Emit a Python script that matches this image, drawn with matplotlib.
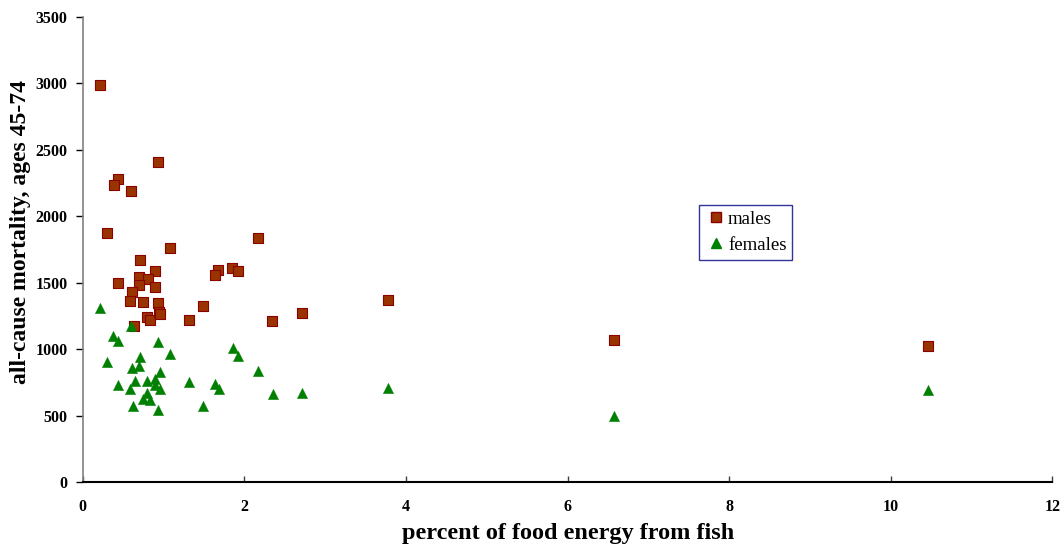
import matplotlib
matplotlib.use("Agg")
import matplotlib.pyplot as plt
from matplotlib.lines import Line2D

# Percent of food energy from fish vs all-cause mortality (ages 45-74)
males_x = [0.21, 0.93, 0.44, 0.38, 0.59, 0.30, 2.17, 1.08, 0.71, 0.89,
           0.70, 0.81, 0.44, 0.69, 0.89, 1.67, 1.63, 1.85, 1.92, 0.61,
           0.58, 0.75, 0.93, 1.49, 0.80, 0.83, 0.94, 0.96, 1.32, 0.63,
           2.34, 2.71, 3.78, 6.57, 10.46]
males_y = [2985, 2406, 2283, 2238, 2190, 1872, 1837, 1757, 1670, 1586,
           1539, 1531, 1494, 1479, 1469, 1597, 1559, 1607, 1585, 1426,
           1363, 1351, 1346, 1321, 1238, 1216, 1276, 1261, 1218, 1176,
           1209, 1271, 1368, 1068, 1023]

females_x = [0.21, 0.59, 0.37, 0.44, 0.93, 0.30, 0.71, 0.70, 0.61, 1.08,
             0.96, 0.44, 0.64, 0.58, 0.80, 0.89, 0.89, 0.95, 0.80, 0.745,
             0.83, 0.62, 0.93, 1.32, 1.49, 1.63, 1.68, 1.855, 1.92, 2.17,
             2.35, 2.71, 3.78, 6.57, 10.46]
females_y = [1311, 1173, 1095, 1060, 1050, 905, 938, 874, 859, 960,
             825, 729, 762, 702, 762, 772, 732, 697, 671, 626,
             614, 571, 544, 752, 574, 739, 697, 1005, 950, 837,
             662, 667, 704, 496, 692]

x_ticks = [0, 2, 4, 6, 8, 10, 12]
y_ticks = [0, 500, 1000, 1500, 2000, 2500, 3000, 3500]

serif = ["Liberation Serif", "DejaVu Serif"]

fig = plt.figure(figsize=(10.62, 5.44), dpi=100)
ax = fig.add_axes([0.078, 0.114, 0.913, 0.855])

ax.scatter(males_x, males_y, marker="s", s=52, facecolor="#993300",
           edgecolor="#8B0000", linewidth=0.8, zorder=3)
ax.scatter(females_x, females_y, marker="^", s=55, facecolor="#008000",
           edgecolor="#008000", linewidth=0.3, zorder=3)

ax.set_xlim(0, 12)
ax.set_ylim(0, 3500)
ax.set_xticks(x_ticks)
ax.set_yticks(y_ticks)
ax.set_xticklabels([str(v) for v in x_ticks], fontfamily=serif,
                   fontweight="bold", fontsize=11.5)
ax.set_yticklabels([str(v) for v in y_ticks], fontfamily=serif,
                   fontweight="bold", fontsize=11.5)

for side in ("top", "right"):
    ax.spines[side].set_visible(False)
ax.spines["left"].set_color("#808080")
ax.spines["left"].set_linewidth(1.2)
ax.spines["bottom"].set_color("black")
ax.spines["bottom"].set_linewidth(1.5)

ax.tick_params(axis="y", direction="out", length=5, width=1, color="black",
               pad=6)
ax.tick_params(axis="x", direction="in", length=4, width=1, color="#404040",
               pad=12)

ax.set_xlabel("percent of food energy from fish", fontfamily=serif,
              fontweight="bold", fontsize=17.5, labelpad=6)
ax.set_ylabel("all-cause mortality, ages 45-74", fontfamily=serif,
              fontweight="bold", fontsize=17)
ax.yaxis.set_label_coords(-0.053, 0.537)

handles = [
    Line2D([], [], linestyle="none", marker="s", markersize=6.5,
           markerfacecolor="#993300", markeredgecolor="#8B0000"),
    Line2D([], [], linestyle="none", marker="^", markersize=7,
           markerfacecolor="#008000", markeredgecolor="#008000"),
]
leg = ax.legend(handles, ["males", "females"], loc="upper left",
                bbox_to_anchor=(0.6355, 0.596), prop={"family": serif, "size": 13.5},
                frameon=True, fancybox=False, borderpad=0.3, handletextpad=0.05,
                handlelength=1.2, labelspacing=0.5, borderaxespad=0)
leg.get_frame().set_edgecolor("#000080")
leg.get_frame().set_linewidth(1.0)

fig.savefig("out.png", dpi=100, facecolor="white")
